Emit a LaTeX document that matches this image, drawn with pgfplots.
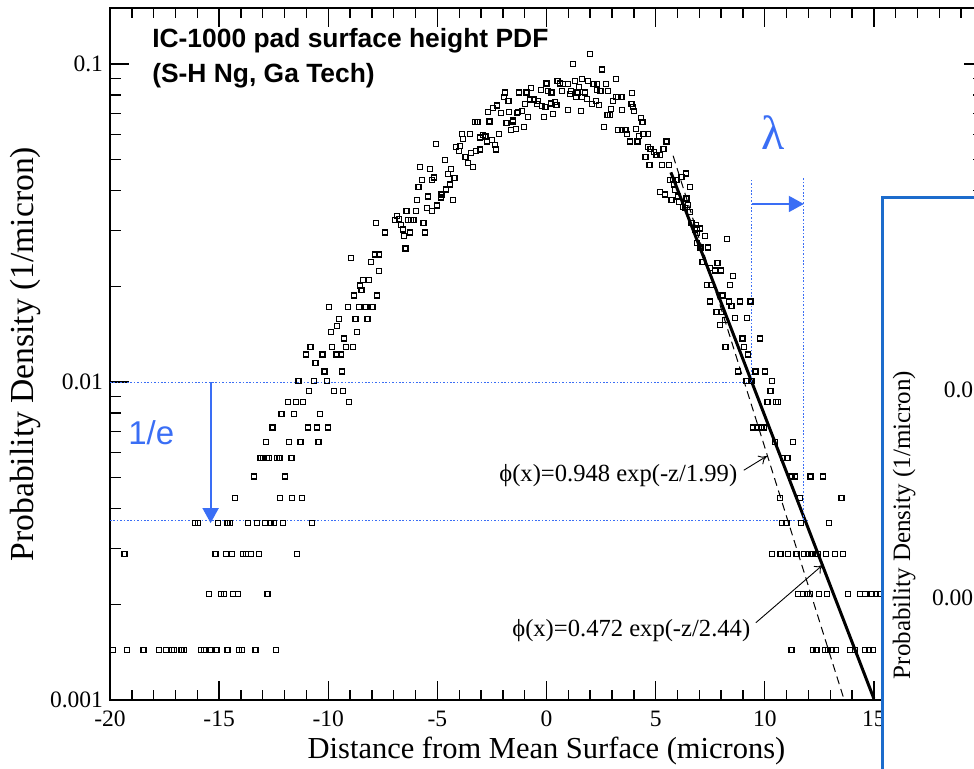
\documentclass[border=0pt]{standalone}
\usepackage{fontspec}
\setmainfont{Liberation Serif}
\newfontfamily\arial{Liberation Sans}
\usepackage{pgfplots}
\pgfplotsset{compat=1.18}
\usetikzlibrary{arrows.meta}
\definecolor{annblue}{RGB}{58,110,245}
\definecolor{boxblue}{RGB}{28,108,204}

% histogram of pad surface heights
\pgfplotstableread{
x y
-19.85 0.00144
-19.21 0.00144
-18.47 0.00144
-17.77 0.00144
-17.45 0.00144
-17.17 0.00144
-17.07 0.00144
-16.72 0.00144
-16.60 0.00144
-15.83 0.00144
-15.70 0.00144
-15.39 0.00144
-15.12 0.00144
-14.61 0.00144
-14.08 0.00144
-13.95 0.00144
-13.34 0.00144
-12.40 0.00144
-15.45 0.00216
-14.92 0.00216
-14.78 0.00216
-14.35 0.00216
-14.12 0.00216
-12.79 0.00216
-19.33 0.00288
-15.16 0.00288
-14.67 0.00288
-14.40 0.00288
-13.92 0.00288
-13.77 0.00288
-13.55 0.00288
-13.16 0.00288
-11.43 0.00288
-16.11 0.0036
-15.97 0.0036
-15.04 0.0036
-14.61 0.0036
-14.50 0.0036
-13.68 0.0036
-13.25 0.0036
-12.90 0.0036
-12.64 0.0036
-12.49 0.0036
-12.06 0.0036
-10.73 0.0036
-14.26 0.00432
-12.21 0.00432
-11.65 0.00432
-11.20 0.00432
-13.40 0.00504
-11.98 0.00504
-13.11 0.00576
-12.98 0.00576
-12.82 0.00576
-12.70 0.00576
-12.34 0.00576
-12.24 0.00576
-11.69 0.00576
-12.84 0.00648
-11.79 0.00648
-11.27 0.00648
-10.44 0.00648
-12.55 0.0072
-10.92 0.0072
-10.50 0.0072
-10.00 0.0072
-12.14 0.00792
-11.58 0.00792
-10.38 0.00792
-11.83 0.00864
-11.48 0.00864
-11.15 0.00864
-9.04 0.00864
-10.87 0.00936
-9.74 0.00936
-9.31 0.00936
-11.37 0.01008
-10.64 0.01008
-10.07 0.01008
-10.17 0.0108
-9.37 0.0108
-10.58 0.0115
-11.02 0.0122
-10.26 0.0122
-9.62 0.0122
-9.42 0.0122
-10.81 0.0129
-9.83 0.0129
-9.18 0.0129
-8.87 0.0129
-9.27 0.0137
-9.88 0.0144
-8.69 0.0144
-9.60 0.0150
-9.50 0.0158
-8.75 0.0158
-8.20 0.0158
-9.95 0.0172
-9.10 0.0172
-8.59 0.0172
-8.30 0.0172
-7.97 0.0172
-8.82 0.0187
-7.76 0.0187
-8.47 0.0195
-8.53 0.0201
-8.41 0.0209
-8.12 0.0209
-7.66 0.0223
-8.03 0.0238
-8.95 0.0245
-7.85 0.0252
-7.69 0.0252
-6.46 0.0263
-7.80 0.0317
-1.89 0.0813
-1.25 0.0813
-1.95 0.0786
-1.74 0.0767
-2.26 0.0740
-2.44 0.0726
-2.67 0.0707
-2.09 0.0703
-1.71 0.0707
-1.34 0.0701
-2.61 0.0660
-3.27 0.0657
-3.16 0.0657
-1.83 0.0651
-1.53 0.0660
-1.62 0.0620
-1.40 0.0626
-3.88 0.0601
-3.52 0.0602
-2.18 0.0602
-2.90 0.0598
-3.05 0.0588
-2.79 0.0591
-3.82 0.0580
-2.72 0.0570
-2.50 0.0577
-2.36 0.0555
-2.32 0.0538
-5.07 0.0560
-4.16 0.0548
-3.95 0.0552
-4.01 0.0533
-3.71 0.0509
-3.46 0.0525
-3.23 0.0533
-3.04 0.0538
-3.60 0.0489
-3.37 0.0475
-4.65 0.0498
-5.79 0.0475
-5.34 0.0468
-4.37 0.0468
-4.50 0.0451
-4.21 0.0439
-5.17 0.0440
-5.24 0.0432
-5.86 0.0411
-5.69 0.0432
-4.43 0.0418
-4.61 0.0403
-4.81 0.0389
-4.85 0.0380
-5.43 0.0383
-5.92 0.0373
-4.27 0.0373
-5.49 0.0353
-5.26 0.0345
-5.01 0.0359
-6.41 0.0345
-5.98 0.0345
-6.85 0.0333
-6.76 0.0325
-6.94 0.0323
-6.36 0.0323
-6.21 0.0323
-6.09 0.0323
-5.63 0.0317
-6.67 0.0311
-6.59 0.0302
-7.39 0.0295
-6.53 0.0288
-6.26 0.0295
-5.57 0.0295
1.99 0.1075
1.20 0.1000
2.55 0.0962
3.18 0.0899
0.00 0.0869
0.51 0.0886
0.61 0.0869
0.77 0.0865
0.97 0.0865
1.30 0.0886
1.64 0.0899
1.91 0.0886
2.16 0.0865
2.30 0.0865
2.71 0.0865
1.50 0.0848
-0.70 0.0840
-0.26 0.0827
0.08 0.0824
0.23 0.0813
0.72 0.0821
1.12 0.0821
1.07 0.0805
1.42 0.0813
1.77 0.0813
2.32 0.0827
2.48 0.0824
2.83 0.0821
-0.91 0.0813
3.91 0.0809
3.18 0.0786
3.28 0.0786
3.43 0.0786
1.35 0.0786
1.62 0.0786
1.86 0.0778
-0.76 0.0774
-0.56 0.0774
-0.38 0.0767
-0.98 0.0749
-0.45 0.0749
-0.22 0.0738
-0.04 0.0734
0.19 0.0752
0.38 0.0760
0.46 0.0743
2.26 0.0765
2.07 0.0749
2.40 0.0743
3.06 0.0765
3.89 0.0749
3.97 0.0731
2.96 0.0723
3.47 0.0716
0.99 0.0716
1.58 0.0713
4.02 0.0713
-1.30 0.0707
-1.11 0.0713
0.29 0.0698
-0.12 0.0683
-0.85 0.0683
-1.53 0.0667
-1.02 0.0634
2.79 0.0690
2.92 0.0690
4.34 0.0675
4.40 0.0656
2.63 0.0634
3.27 0.0621
3.45 0.0621
3.62 0.0621
3.68 0.0602
4.10 0.0626
4.45 0.0602
4.64 0.0602
4.25 0.0594
3.82 0.0570
4.17 0.0570
5.50 0.0570
4.66 0.0547
4.77 0.0540
4.92 0.0530
5.04 0.0517
5.19 0.0517
5.36 0.0540
4.54 0.0509
4.72 0.0481
5.29 0.0481
5.62 0.0481
5.65 0.0432
5.80 0.0432
5.96 0.0432
6.19 0.0442
6.38 0.0453
5.84 0.0418
5.88 0.0402
6.57 0.0411
5.19 0.0396
5.42 0.0389
5.73 0.0373
6.03 0.0383
6.08 0.0369
6.26 0.0356
6.42 0.0378
6.49 0.0360
6.57 0.0343
6.34 0.0352
6.65 0.0316
6.80 0.0302
6.90 0.0304
7.03 0.0304
6.88 0.0294
6.84 0.0312
7.26 0.0288
6.90 0.0273
7.06 0.0265
7.41 0.0265
8.28 0.0281
7.15 0.0238
7.84 0.0237
7.49 0.0228
7.71 0.0224
7.99 0.0224
8.55 0.0216
7.36 0.0202
7.56 0.0202
8.40 0.0202
8.07 0.0187
7.49 0.0179
8.35 0.0179
8.48 0.0173
8.86 0.0179
9.35 0.0179
7.79 0.0166
8.02 0.0166
8.63 0.0159
9.19 0.0159
7.94 0.0151
8.19 0.0157
8.98 0.0137
9.78 0.0137
8.20 0.0129
9.04 0.0129
9.24 0.0122
8.78 0.0108
9.58 0.0108
10.00 0.0108
9.17 0.01008
9.39 0.01008
10.34 0.01008
10.27 0.00936
10.13 0.00864
10.51 0.00864
10.61 0.00864
9.47 0.0072
9.65 0.0072
9.85 0.0072
9.96 0.0072
10.46 0.00648
11.30 0.00648
10.84 0.00576
11.04 0.00576
11.23 0.00504
11.38 0.00504
12.10 0.00504
12.68 0.00504
10.69 0.00432
11.61 0.00432
13.52 0.00432
10.80 0.0036
11.00 0.0036
11.65 0.0036
12.95 0.0036
10.34 0.00288
10.72 0.00288
11.07 0.00288
11.46 0.00288
11.81 0.00288
11.99 0.00288
12.14 0.00288
12.30 0.00288
12.45 0.00288
12.80 0.00288
13.21 0.00288
13.59 0.00288
11.53 0.00216
11.76 0.00216
11.94 0.00216
12.07 0.00216
12.48 0.00216
12.86 0.00216
13.82 0.00216
14.36 0.00216
14.59 0.00216
14.89 0.00216
15.09 0.00216
15.30 0.00216
11.23 0.00144
12.22 0.00144
12.37 0.00144
12.75 0.00144
12.90 0.00144
13.06 0.00144
13.26 0.00144
13.90 0.00144
14.13 0.00144
14.59 0.00144
14.78 0.00144
14.97 0.00144
}\pdfdata

\begin{document}
\begin{tikzpicture}
\useasboundingbox (-55pt,-34pt) rectangle (432pt,350pt);
\clip (-55pt,-34pt) rectangle (432pt,350pt);

\begin{axis}[
  at={(0pt,0pt)}, anchor=south west,
  scale only axis, width=436.5pt, height=346pt,
  xmin=-20, xmax=20,
  ymode=log, ymin=0.001, ymax=0.15,
  xtick={-20,-15,-10,-5,0,5,10,15,20},
  xticklabels={-20,-15,-10,-5,0,5,10,15,{}},
  minor x tick num=4,
  ytick={0.001,0.01,0.1},
  yticklabels={0.001,0.01,0.1},
  minor ytick={0.002,0.003,0.004,0.005,0.006,0.007,0.008,0.009,0.02,0.03,0.04,0.05,0.06,0.07,0.08,0.09},
  tick align=inside,
  major tick length=9.5pt, minor tick length=5.25pt,
  tick style={black, line width=0.7pt},
  axis line style={line width=0.8pt},
  ticklabel style={font=\fontsize{11.75}{13}\selectfont},
  xticklabel style={yshift=-1.9pt},
  xlabel={Distance from Mean Surface (microns)},
  ylabel={Probability Density (1/micron)},
  xlabel style={at={(axis description cs:0.5,0)}, anchor=base, yshift=-29pt,
    font=\fontsize{15.25}{17}\selectfont},
  ylabel style={at={(axis description cs:-0.0879,0.5)}, anchor=base,
    font=\fontsize{16.8}{18}\selectfont},
]
\addplot[only marks, mark=square, mark size=1.25pt,
  mark options={black, line width=0.65pt}] table {\pdfdata};

% exponential tail fits (straight on the log axis)
\addplot[black, line width=1.5pt] coordinates {(5.7,0.04564) (15,0.00101)};
\addplot[black, line width=0.5pt, dash pattern=on 4pt off 2.5pt]
  coordinates {(5.8,0.0515) (13.75,0.000947)};

% 1/e and lambda construction
\addplot[annblue, line width=0.5pt, dash pattern=on 0.8pt off 0.9pt]
  coordinates {(-20,0.01) (9.5,0.01)};
\addplot[annblue, line width=0.5pt, dash pattern=on 0.8pt off 0.9pt]
  coordinates {(-20,0.00368) (12.0,0.00368)};
\addplot[annblue, line width=0.5pt, dash pattern=on 0.8pt off 0.9pt]
  coordinates {(9.40,0.01) (9.40,0.0432)};
\addplot[annblue, line width=0.5pt, dash pattern=on 0.8pt off 0.9pt]
  coordinates {(11.79,0.00368) (11.79,0.0438)};
\addplot[annblue, line width=0.9pt, -{Triangle[length=7.5pt,width=8pt]}]
  coordinates {(9.40,0.0363) (11.79,0.0363)};
\addplot[annblue, line width=0.9pt, -{Triangle[length=7.5pt,width=8pt]}]
  coordinates {(-15.39,0.01) (-15.39,0.0036)};

\draw[-{To[length=4pt,width=5pt]}, line width=0.45pt]
  (axis cs:9.04,0.00528) -- (axis cs:10.10,0.00585);
\draw[-{To[length=4pt,width=5pt]}, line width=0.45pt]
  (axis cs:9.59,0.00175) -- (axis cs:12.66,0.00266);

\node[anchor=base west, inner sep=0, font=\fontsize{12.3}{14}\selectfont]
  at (axis cs:-2.18,0.00485) {ϕ(x)=0.948 exp(-z/1.99)};
\node[anchor=base west, inner sep=0, font=\fontsize{12.3}{14}\selectfont]
  at (axis cs:-1.585,0.00158) {ϕ(x)=0.472 exp(-z/2.44)};

\node[anchor=base west, inner sep=0, font=\arial\bfseries\fontsize{13.2}{15}\selectfont]
  at (axis cs:-18.08,0.1131) {IC-1000 pad surface height PDF};
\node[anchor=base west, inner sep=0, font=\arial\bfseries\fontsize{13.2}{15}\selectfont]
  at (axis cs:-18.08,0.0872) {(S-H Ng, Ga Tech)};

\node[anchor=base west, inner sep=0, text=annblue, font=\arial\fontsize{16.5}{18}\selectfont]
  at (axis cs:-19.18,0.00634) {1/e};
\node[anchor=base, inner sep=0, text=annblue, font=\fontsize{24}{26}\selectfont]
  at (axis cs:10.40,0.0537) {λ};
\end{axis}

% the next chart of the slide, overlapping at the right
\draw[boxblue, line width=1.5pt, fill=white] (386pt,251.5pt) rectangle (700pt,-100pt);

\begin{axis}[
  at={(441pt,0pt)}, anchor=south west,
  scale only axis, width=200pt, height=225pt,
  xmin=0, xmax=1, xtick=\empty,
  ymode=log, ymin=0.000324, ymax=0.0471,
  ytick={0.001,0.01}, yticklabels={0.001,0.01},
  yticklabel style={font=\fontsize{11.75}{13}\selectfont},
  ylabel={Probability Density (1/micron)},
  ylabel style={at={(axis description cs:-0.205,0.389)}, anchor=base,
    font=\fontsize{12.5}{14}\selectfont},
]
\end{axis}
\end{tikzpicture}
\end{document}
